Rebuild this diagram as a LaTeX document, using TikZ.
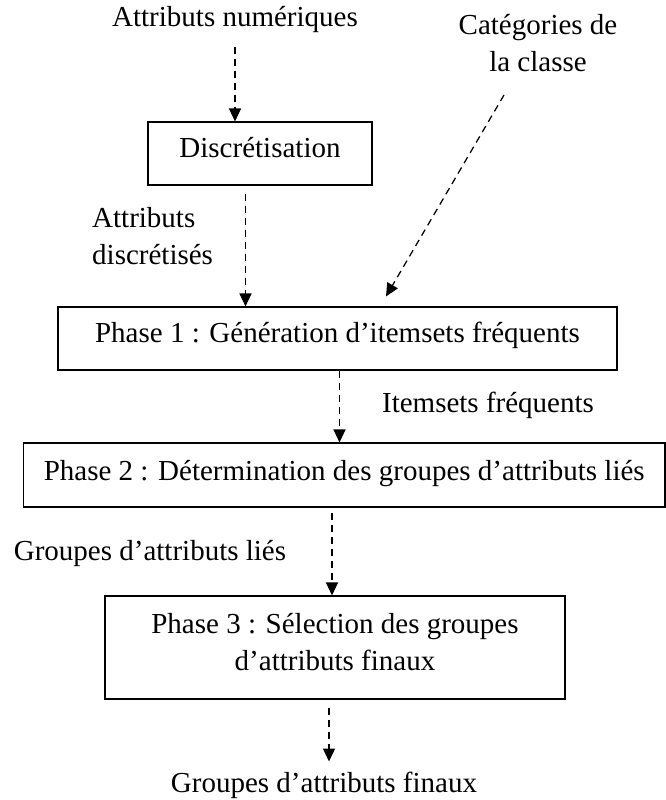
\documentclass[tikz,border=0pt]{standalone}
\usepackage{fontspec}
\setmainfont{Liberation Serif}
\usetikzlibrary{positioning,arrows.meta}

\begin{document}
\begin{tikzpicture}[x=1pt,y=-1pt,>={Triangle[length=13pt,width=12pt]},
    font=\fontsize{29}{37}\selectfont]
  \tikzstyle{phasebox}=[draw,line width=1.1pt,align=center,inner sep=0pt]
  \tikzstyle{flowlabel}=[inner sep=0pt,align=center]
  \tikzstyle{flowarrow}=[->,line width=1.25pt,dash pattern=on 7pt off 5pt]
  \useasboundingbox (0,0) rectangle (666,800);
  \node[flowlabel] (numattr) at (235,20) {Attributs numériques};
  \node[flowlabel] (cat) at (538,43.5) {Catégories de\\la classe};
  \node[phasebox,minimum width=224pt,minimum height=63pt,text depth=12pt] (disc) at (260,153.5) {Discrétisation};
  \node[flowlabel,anchor=west,align=left] (discattr) at (92,236.5) {Attributs\\discrétisés};
  \node[phasebox,minimum width=559pt,minimum height=63pt,text depth=12pt] (ph1) at (337.5,338.5)
    {Phase 1 : Génération d’itemsets fréquents};
  \node[flowlabel] (itemlab) at (488,405) {Itemsets fréquents};
  \node[phasebox,minimum width=641.5pt,minimum height=64pt,text depth=10pt] (ph2) at (344.25,475)
    {Phase 2 : Détermination des groupes d’attributs liés};
  \node[flowlabel] (linklab) at (150,553) {Groupes d’attributs liés};
  \node[phasebox,minimum width=460pt,minimum height=103pt,text depth=12pt] (ph3) at (335,647.5)
    {Phase 3 : Sélection des groupes\\d’attributs finaux};
  \node[flowlabel] (final) at (324,785) {Groupes d’attributs finaux};
  \draw[flowarrow] ([yshift=-14pt]numattr.south) -- (numattr.south |- disc.north);
  \draw[flowarrow] ([xshift=-14.5pt,yshift=-8pt]disc.south) -- ([xshift=-14.5pt]disc.south |- ph1.north);
  \draw[flowarrow] ([shift={(-34pt,-51.5pt)}]cat.center) -- ([shift={(48.5pt,10pt)}]ph1.north);
  \draw[flowarrow] ([xshift=2pt]ph1.south) -- ([xshift=2pt]ph1.south |- ph2.north);
  \draw[flowarrow] ([xshift=-3pt,yshift=-5pt]ph3.north |- ph2.south) -- ([xshift=-3pt]ph3.north);
  \draw[flowarrow] ([xshift=-6pt,yshift=-8pt]ph3.south) -- ([xshift=-6pt,yshift=10pt]ph3.south |- final.north);
\end{tikzpicture}
\end{document}
